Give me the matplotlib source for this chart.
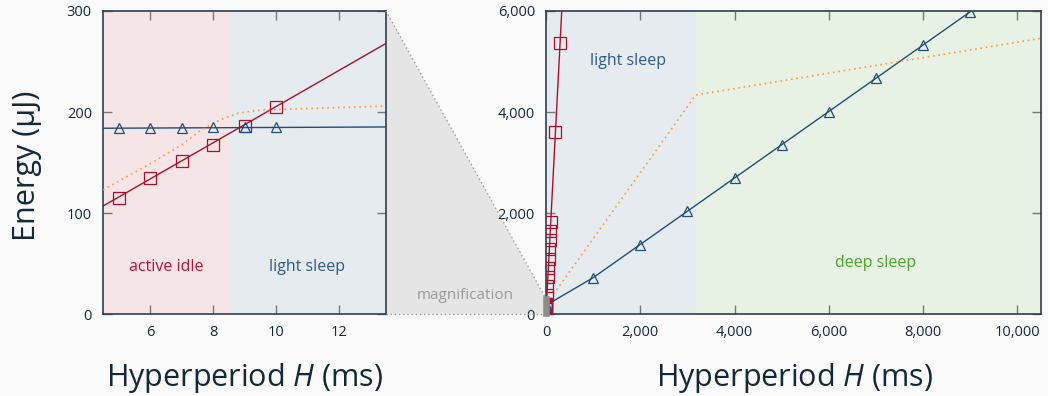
import matplotlib
matplotlib.use("Agg")
import matplotlib.pyplot as plt
from matplotlib.patches import Polygon, Rectangle
from matplotlib.lines import Line2D
from matplotlib.ticker import FuncFormatter

plt.rcParams['font.family'] = ['Open Sans', 'DejaVu Sans']
plt.rcParams['mathtext.fontset'] = 'custom'
plt.rcParams['mathtext.it'] = 'Open Sans:italic'
plt.rcParams['mathtext.rm'] = 'Open Sans'

# ---- data -------------------------------------------------------------
# measured energy per hyperperiod (squares: active idle, triangles: sleep)
idle_H = [5, 6, 7, 8, 9, 10, 20, 30, 40, 50, 60, 70, 80, 90, 100, 200, 300]
idle_E = [114.7, 134.5, 151.6, 167.5, 186.3, 205.3, 388, 566, 745, 925,
          1103, 1282, 1460, 1640, 1820, 3600, 5373]
sleep_H = [5, 6, 7, 8, 9, 10, 1000, 2000, 3000, 4000, 5000, 6000, 7000,
           8000, 9000]
sleep_E = [184.6, 184.7, 184.6, 184.8, 185.0, 185.0, 724, 1371, 2043, 2690,
           3349, 4002, 4668, 5327, 5986]

# model curves
idle_fit_H = [0, 400]
idle_fit_E = [26.6, 7178]
sleep_fit_H = [0, 13.5, 1000, 9000, 10500]
sleep_fit_E = [183.4, 185.3, 724, 5986, 6973]
best_H = [4.5, 6, 7, 7.6, 8.2, 8.8, 9.5, 13.5, 3176, 10500]
best_E = [123, 149, 167.5, 182, 192, 199, 202, 206, 4338, 5460]

# operating-mode regions
zoom_modes = [("active idle", 4.5, 8.5), ("light sleep", 8.5, 13.5)]
full_modes = [("light sleep", 0, 3176), ("deep sleep", 3176, 10500)]

zoom_xticks = [6, 8, 10, 12]
zoom_yticks = [0, 100, 200, 300]
full_xticks = [0, 2000, 4000, 6000, 8000, 10000]
full_yticks = [0, 2000, 4000, 6000]

# ---- style -------------------------------------------------------------
RED = '#a8102e'
BLUE = '#1f4e79'
ORANGE = '#ff9a33'
mode_bg = {"active idle": '#f5e5e6', "light sleep": '#e6ebf0',
           "deep sleep": '#e8f2e4'}
mode_fg = {"active idle": '#b0173a', "light sleep": '#2e5b85',
           "deep sleep": '#4ca22a'}
SPINE = '#2f3e4c'
TXT = '#14283c'

W, Hpx = 1048, 396
fig = plt.figure(figsize=(W / 100, Hpx / 100), dpi=100, facecolor='#fafafa')


def box(x0, x1, y0, y1):
    return [x0 / W, 1 - y1 / Hpx, (x1 - x0) / W, (y1 - y0) / Hpx]


ax1 = fig.add_axes(box(103, 386, 11, 314.3))
ax2 = fig.add_axes(box(546, 1041, 11, 314.3))


def style(ax):
    for s in ax.spines.values():
        s.set_color(SPINE)
        s.set_linewidth(1.2)
    ax.tick_params(direction='in', length=6.5, width=1.0, color='#777777',
                   top=True, right=True, labelsize=10.5, labelcolor=TXT,
                   pad=8.0)


def draw_series(ax):
    ax.plot(idle_fit_H, idle_fit_E, color=RED, lw=1.0, zorder=3)
    ax.plot(sleep_fit_H, sleep_fit_E, color=BLUE, lw=1.0, zorder=3)
    ax.plot(best_H, best_E, color=ORANGE, lw=1.2, ls=(0, (1, 2.2)), zorder=3)
    ax.plot(idle_H, idle_E, ls='none', marker='s', ms=8.5, mfc='none',
            mec=RED, mew=0.9, zorder=4)
    ax.plot(sleep_H, sleep_E, ls='none', marker='^', ms=7.5, mfc='none',
            mec=BLUE, mew=0.9, zorder=4)


# zoomed view
for name, a, b in zoom_modes:
    ax1.axvspan(a, b, color=mode_bg[name], lw=0, zorder=0)
draw_series(ax1)
ax1.set_xlim(4.5, 13.5)
ax1.set_ylim(0, 300)
ax1.set_xticks(zoom_xticks)
ax1.set_yticks(zoom_yticks)
style(ax1)
ax1.text(6.5, 43, "active idle", color=mode_fg["active idle"], fontsize=11.5,
         ha='center', va='baseline')
ax1.text(11, 43, "light sleep", color=mode_fg["light sleep"], fontsize=11.5,
         ha='center', va='baseline')

# full view
for name, a, b in full_modes:
    ax2.axvspan(a, b, color=mode_bg[name], lw=0, zorder=0)
draw_series(ax2)
ax2.set_xlim(0, 10500)
ax2.set_ylim(0, 6000)
ax2.set_xticks(full_xticks)
ax2.set_yticks(full_yticks)
comma = FuncFormatter(lambda v, _: f"{int(v):,}")
ax2.xaxis.set_major_formatter(comma)
ax2.yaxis.set_major_formatter(comma)
style(ax2)
ax2.text(1750, 4930, "light sleep", color=mode_fg["light sleep"],
         fontsize=11.5, ha='center', va='baseline')
ax2.text(7000, 930, "deep sleep", color=mode_fg["deep sleep"],
         fontsize=11.5, ha='center', va='baseline')

# window of the zoomed view inside the full view
zx0, zx1 = ax1.get_xlim()
zy0, zy1 = ax1.get_ylim()
ax2.add_patch(Rectangle((zx0, zy0), zx1 - zx0, zy1 - zy0, facecolor='#8c8c8c',
                        edgecolor='#8c8c8c', lw=4, clip_on=False, zorder=5))

# magnification funnel between both axes
to_fig = fig.transFigure.inverted()
p_top = to_fig.transform(ax1.transAxes.transform((1, 1)))
p_bot = to_fig.transform(ax1.transAxes.transform((1, 0)))
q_top = to_fig.transform(ax2.transData.transform((zx0, zy1)))
q_bot = to_fig.transform(ax2.transData.transform((zx0, zy0)))
fig.add_artist(Polygon([p_top, q_top, q_bot, p_bot], closed=True,
                       transform=fig.transFigure, facecolor='#e5e5e5',
                       edgecolor='none', zorder=0))
for a, b in [(p_top, q_top), (p_bot, q_bot)]:
    fig.add_artist(Line2D([a[0], b[0]], [a[1], b[1]], transform=fig.transFigure,
                          color='#9a9a9a', lw=1.0, ls=(0, (1, 2)), zorder=1))
fig.text(465.5 / W, 1 - 299 / Hpx, "magnification", color='#9a9a9a',
         fontsize=11, ha='center', va='baseline')

# axis titles
fig.text(27 / W, 1 - 166 / Hpx, "Energy (μJ)", rotation=90, color=TXT,
         fontsize=22, ha='center', va='center')
fig.text(245 / W, 1 - 386 / Hpx, "Hyperperiod $\\mathit{H}$ (ms)", color=TXT,
         fontsize=22, ha='center', va='baseline')
fig.text(795 / W, 1 - 386 / Hpx, "Hyperperiod $\\mathit{H}$ (ms)", color=TXT,
         fontsize=22, ha='center', va='baseline')

fig.savefig("out.png", dpi=100, facecolor=fig.get_facecolor())
